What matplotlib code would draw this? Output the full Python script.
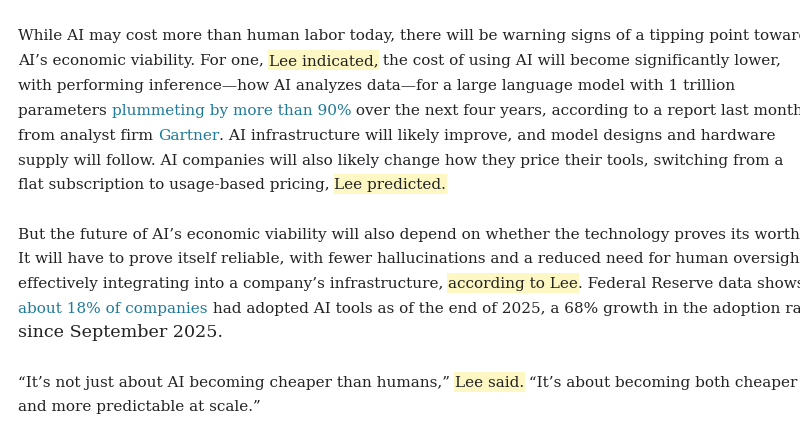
import matplotlib
matplotlib.use("Agg")
import matplotlib.pyplot as plt
from matplotlib.patches import Rectangle

FAM = "DejaVu Serif"
TEXT = "#222222"
LINK = "#1f7a99"
HL = "#fdf7c3"

lines = [
    [("While AI may cost more than human labor today, there will be warning signs of a tipping point toward", "n")],
    [("AI\u2019s economic viability. For one, ", "n"), ("Lee indicated,", "h"), (" the cost of using AI will become significantly lower,", "n")],
    [("with performing inference\u2014how AI analyzes data\u2014for a large language model with 1 trillion", "n")],
    [("parameters ", "n"), ("plummeting by more than 90%", "l"), (" over the next four years, according to a report last month", "n")],
    [("from analyst firm ", "n"), ("Gartner", "l"), (". AI infrastructure will likely improve, and model designs and hardware", "n")],
    [("supply will follow. AI companies will also likely change how they price their tools, switching from a", "n")],
    [("flat subscription to usage-based pricing, ", "n"), ("Lee predicted.", "h")],
    [("But the future of AI\u2019s economic viability will also depend on whether the technology proves its worth.", "n")],
    [("It will have to prove itself reliable, with fewer hallucinations and a reduced need for human oversight,", "n")],
    [("effectively integrating into a company\u2019s infrastructure, ", "n"), ("according to Lee", "h"), (". Federal Reserve data shows", "n")],
    [("about 18% of companies", "l"), (" had adopted AI tools as of the end of 2025, a 68% growth in the adoption rate", "n")],
    [("since September 2025.", "n")],
    [("\u201cIt\u2019s not just about AI becoming cheaper than humans,\u201d ", "n"), ("Lee said.", "h"), (" \u201cIt\u2019s about becoming both cheaper", "n")],
    [("and more predictable at scale.\u201d", "n")],
]
centers = [35, 60, 85, 110, 135, 160, 184, 234, 258, 283, 308, 332, 382, 406]
right_edges = [780, 777, 734, 762, 776, 756, 431, 774, 779, 774, 771, 326, 763, 222]

W, H = 800, 421
fig = plt.figure(figsize=(W / 100, H / 100), dpi=100)
fig.patch.set_facecolor("white")
r = fig.canvas.get_renderer()

def ink_width(s, fs):
    t = fig.text(0, 0, s, fontsize=fs, family=FAM)
    w = t.get_window_extent(r).width
    t.remove()
    return w

def width(s, fs):
    t = fig.text(0, 0, s + "x", fontsize=fs, family=FAM)
    w1 = t.get_window_extent(r).width
    t.set_text("x")
    w2 = t.get_window_extent(r).width
    t.remove()
    return w1 - w2

x0 = 18
for segs, cy, rx in zip(lines, centers, right_edges):
    whole = "".join(t for t, _ in segs)
    fs = 12 * (rx - x0) / ink_width(whole, 12)
    fs = min(max(fs, 11.0), 12.6)
    full = ""
    base = H - (cy + 5)
    for txt, st in segs:
        xs = x0 + width(full, fs)
        w = width(txt, fs)
        color = LINK if st == "l" else TEXT
        if st == "h":
            fig.patches.append(Rectangle(((xs - 1) / W, (H - cy - 10) / H), (w + 2) / W, 20 / H,
                                         transform=fig.transFigure, facecolor=HL, edgecolor="none", zorder=0))
        fig.text(xs / W, base / H, txt, fontsize=fs, family=FAM, color=color, va="baseline", zorder=2)
        full += txt

fig.savefig("out.png", dpi=100, facecolor="white")
